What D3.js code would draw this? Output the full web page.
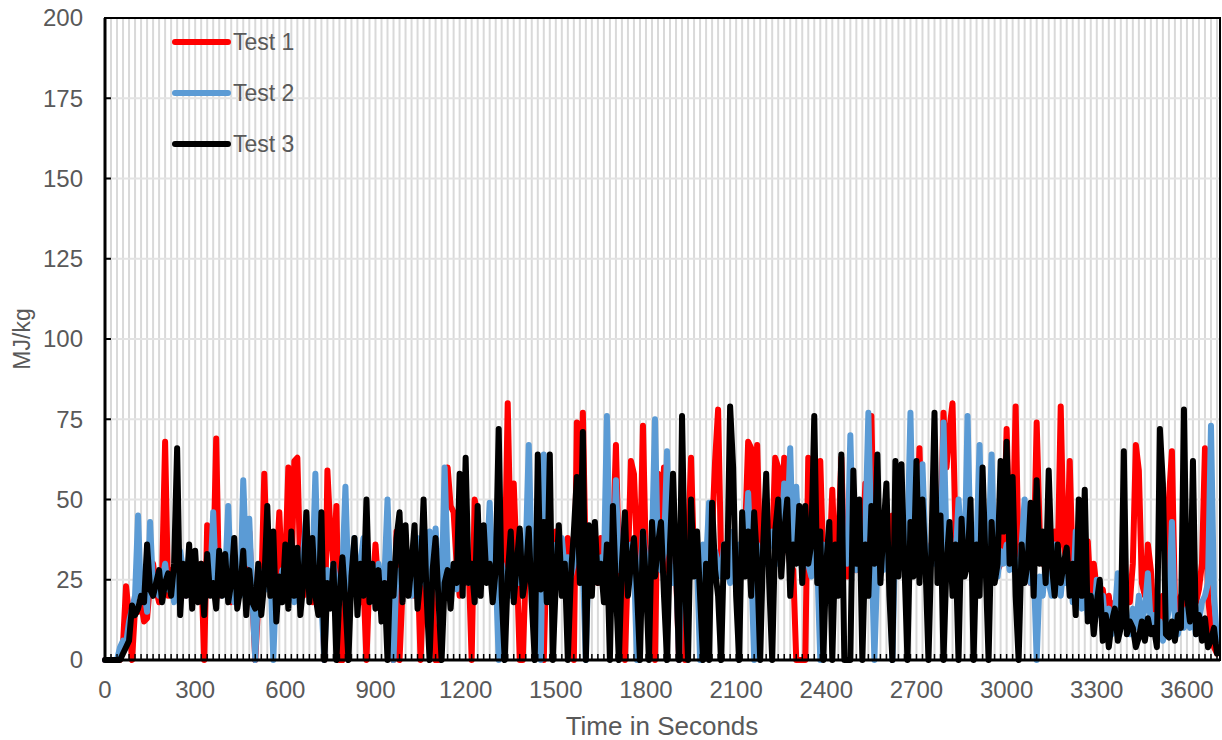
<!DOCTYPE html>
<html>
<head>
<meta charset="utf-8">
<script src="https://cdn.jsdelivr.net/npm/d3@7"></script>
<style>
  body { margin: 0; background: #fff; }
  text { font-family: "Liberation Sans", Arial, sans-serif; fill: #595959; }
</style>
</head>
<body>
<svg id="chart"></svg>
<script>
// one reading every 10 seconds, starting at 0
const sampleStep = 10;

const test1 = [
  0,0,0,0,0,0,5,23,14,0,16,15,18,12,13,24,30,22,18,26,68,20,28,24,30,22,27,20,25,23,
  26,22,30,0,42,24,28,69,20,26,22,30,18,25,27,22,35,26,40,20,0,18,22,58,30,26,20,28,46,24,
  30,60,24,62,63,28,20,30,22,18,25,20,26,0,59,40,30,48,0,0,20,25,30,22,26,18,24,0,26,20,
  36,22,26,18,24,20,0,40,0,22,28,26,24,20,30,0,24,28,26,20,0,0,24,45,60,48,46,30,20,26,
  24,30,0,50,45,28,26,36,28,22,30,24,20,28,80,35,55,30,0,0,28,32,26,38,30,24,0,36,28,30,
  40,26,30,24,38,28,0,74,30,77,28,26,36,30,24,38,32,30,26,36,67,30,24,0,30,62,58,34,30,73,
  30,26,36,0,58,40,60,30,26,34,28,0,30,0,36,63,30,26,34,28,36,30,40,62,78,32,28,36,30,26,
  34,30,36,40,68,66,40,67,32,36,30,40,36,63,60,40,63,36,30,28,0,0,0,0,63,30,34,40,62,30,
  36,30,53,28,36,63,30,26,36,30,28,40,32,55,36,76,30,28,34,30,36,28,45,30,28,36,30,26,38,30,
  36,66,34,30,28,36,40,30,36,77,60,72,80,40,30,36,28,34,30,26,36,30,28,34,40,30,36,28,30,36,
  72,40,36,79,30,28,36,30,24,30,74,40,30,36,28,24,40,30,79,36,30,62,28,24,30,20,26,37,20,30,
  22,18,22,14,20,10,18,12,20,14,24,18,30,67,59,24,20,36,28,12,18,10,20,14,50,65,18,12,20,14,
  20,14,24,18,22,30,66,20,10,4,2
];

const test2 = [
  0,0,0,0,0,4,6,5,12,16,20,45,18,22,15,43,22,26,20,24,30,22,26,18,25,34,28,20,30,24,
  28,20,26,18,30,24,46,22,28,20,26,48,22,18,26,20,56,30,44,20,0,24,18,28,22,30,0,26,20,28,
  22,30,24,18,28,22,34,45,20,26,58,24,18,0,28,22,30,24,20,28,54,22,26,38,20,30,38,24,20,28,
  24,30,22,26,50,20,0,28,24,30,22,26,20,28,38,24,30,22,40,26,41,24,20,60,30,24,28,22,30,26,
  30,24,28,22,30,36,26,30,49,24,28,0,30,24,28,20,30,26,24,28,34,67,30,24,28,0,64,30,24,36,
  30,24,38,28,32,26,30,40,30,28,0,38,34,30,26,32,28,76,30,26,56,28,34,30,24,36,30,0,26,40,
  30,26,36,75,30,28,34,65,28,24,30,0,36,28,30,26,34,30,0,36,30,49,28,34,30,26,36,30,24,40,
  30,36,28,34,52,30,0,36,28,32,30,36,40,34,30,36,55,40,66,30,54,34,28,36,30,26,34,30,0,36,
  30,36,28,34,30,40,36,30,70,34,28,36,30,40,77,36,0,30,34,28,36,30,0,40,36,30,28,36,77,30,
  36,30,61,34,28,36,30,40,30,74,36,28,34,30,50,36,30,76,34,28,36,67,30,28,36,64,30,26,34,30,
  36,28,34,30,26,36,50,30,24,30,0,26,20,30,24,20,36,26,20,30,24,28,18,40,22,16,24,14,20,12,
  25,14,20,10,16,8,14,27,10,18,12,8,16,10,20,12,16,27,10,14,8,12,6,10,16,43,12,8,14,10,
  16,10,14,8,12,18,20,24,73,20,6
];

const test3 = [
  0,0,0,0,0,0,2,4,6,17,14,16,20,18,36,22,20,24,28,18,24,27,20,30,66,14,30,20,36,16,
  34,18,30,14,33,20,24,16,34,20,33,18,24,38,16,22,34,14,28,18,16,30,14,24,48,20,40,12,26,18,
  36,16,40,20,35,14,24,46,18,38,20,14,46,0,24,16,30,0,20,32,18,0,26,38,14,30,20,50,18,30,
  16,28,12,24,0,30,20,38,46,18,42,20,30,42,16,26,50,20,0,28,38,18,0,24,28,16,30,24,58,20,
  63,24,30,18,48,20,42,24,30,18,28,72,20,0,26,40,18,30,41,20,26,41,18,0,64,22,43,18,64,0,
  24,42,20,30,0,26,40,57,24,71,0,42,20,43,24,30,18,36,0,48,22,0,30,46,20,30,38,22,0,40,
  24,0,43,26,36,43,20,0,36,58,30,0,76,24,0,50,26,40,20,0,30,0,49,28,20,0,36,26,79,60,
  20,0,46,26,40,20,46,30,0,36,58,24,0,40,50,26,40,50,20,36,30,48,24,48,30,36,76,24,40,0,
  30,43,0,36,20,64,0,0,0,59,30,50,0,36,20,48,30,64,24,40,55,20,0,62,26,61,30,0,43,26,
  62,24,50,30,0,36,77,24,45,0,30,43,20,36,0,44,26,30,50,0,36,20,60,30,0,43,24,30,62,40,
  68,30,57,20,0,36,24,30,49,20,56,30,40,24,59,30,20,36,24,30,35,20,30,14,50,20,53,12,20,8,
  18,25,6,14,4,12,16,6,10,65,8,12,10,4,7,12,6,13,8,10,4,72,55,8,7,12,6,14,10,78,
  20,12,62,8,14,6,13,4,6,10,2
];

const seriesNames = ["Test 1", "Test 2", "Test 3"];
const seriesColors = ["#ff0000", "#5b9bd5", "#000000"];
const yTicks = [0, 25, 50, 75, 100, 125, 150, 175, 200];
const xTicks = [0, 300, 600, 900, 1200, 1500, 1800, 2100, 2400, 2700, 3000, 3300, 3600];
const xMax = 3710;
const gridStep = 20;

const width = 1222, height = 740;
const margin = { top: 18, right: 2, bottom: 80, left: 105 };

const svg = d3.select("#chart")
    .attr("width", width)
    .attr("height", height);

svg.append("rect").attr("width", width).attr("height", height).attr("fill", "#fff");

const x = d3.scaleLinear().domain([0, xMax]).range([margin.left, width - margin.right]);
const y = d3.scaleLinear().domain([0, 200]).range([height - margin.bottom, margin.top]);

// gridlines
const grid = svg.append("g");
grid.selectAll("line.v")
    .data(d3.range(gridStep, xMax, gridStep))
    .enter().append("line")
    .attr("x1", d => x(d)).attr("x2", d => x(d))
    .attr("y1", y(200)).attr("y2", y(0))
    .attr("stroke", "#d9d9d9").attr("stroke-width", 2);
grid.selectAll("line.h")
    .data(yTicks.slice(1))
    .enter().append("line")
    .attr("x1", x(0)).attr("x2", x(xMax))
    .attr("y1", d => y(d)).attr("y2", d => y(d))
    .attr("stroke", "#e3e3e3").attr("stroke-width", 2);

// series
const allSeries = [test1, test2, test3];
const line = d3.line()
    .x((d, i) => x(i * sampleStep))
    .y(d => y(d));

allSeries.forEach((vals, k) => {
    svg.append("path")
        .datum(vals)
        .attr("d", line)
        .attr("fill", "none")
        .attr("stroke", seriesColors[k])
        .attr("stroke-width", 6)
        .attr("stroke-linejoin", "round")
        .attr("stroke-linecap", "round");
});

// frame
svg.append("rect")
    .attr("x", x(0)).attr("y", y(200))
    .attr("width", x(xMax) - x(0)).attr("height", y(0) - y(200))
    .attr("fill", "none").attr("stroke", "#000").attr("stroke-width", 2);
svg.append("line")
    .attr("x1", x(0)).attr("x2", x(0)).attr("y1", y(200)).attr("y2", y(0) + 1.5)
    .attr("stroke", "#000").attr("stroke-width", 3);
svg.append("line")
    .attr("x1", x(0)).attr("x2", x(xMax)).attr("y1", y(0)).attr("y2", y(0))
    .attr("stroke", "#000").attr("stroke-width", 3);

// small ticks along the bottom, pointing inward
svg.append("g").selectAll("line")
    .data(d3.range(0, xMax, gridStep))
    .enter().append("line")
    .attr("x1", d => x(d)).attr("x2", d => x(d))
    .attr("y1", y(0)).attr("y2", y(0) - 6)
    .attr("stroke", "#000").attr("stroke-width", 1.5);

// y ticks
svg.append("g").selectAll("line")
    .data(yTicks)
    .enter().append("line")
    .attr("x1", x(0)).attr("x2", x(0) + 6)
    .attr("y1", d => y(d)).attr("y2", d => y(d))
    .attr("stroke", "#000").attr("stroke-width", 2);

svg.append("g").selectAll("text")
    .data(yTicks)
    .enter().append("text")
    .attr("x", 83)
    .attr("y", d => y(d))
    .attr("dy", "0.35em")
    .attr("text-anchor", "end")
    .style("font-size", "24px")
    .text(d => d);

svg.append("g").selectAll("text")
    .data(xTicks)
    .enter().append("text")
    .attr("x", d => x(d))
    .attr("y", 690)
    .attr("dy", "0.35em")
    .attr("text-anchor", "middle")
    .style("font-size", "24px")
    .text(d => d);

svg.append("text")
    .attr("x", 662).attr("y", 726)
    .attr("dy", "0.35em")
    .attr("text-anchor", "middle")
    .style("font-size", "26px")
    .text("Time in Seconds");

svg.append("text")
    .attr("transform", `translate(22,${(y(0) + y(200)) / 2}) rotate(-90)`)
    .attr("dy", "0.35em")
    .attr("text-anchor", "middle")
    .style("font-size", "23px")
    .text("MJ/kg");

// legend
const legend = svg.append("g");
seriesNames.forEach((name, k) => {
    const ly = 42 + k * 51;
    legend.append("line")
        .attr("x1", 175).attr("x2", 228)
        .attr("y1", ly).attr("y2", ly)
        .attr("stroke", seriesColors[k])
        .attr("stroke-width", 6)
        .attr("stroke-linecap", "round");
    legend.append("text")
        .attr("x", 233).attr("y", ly)
        .attr("dy", "0.35em")
        .style("font-size", "23px")
        .text(name);
});
</script>
</body>
</html>
